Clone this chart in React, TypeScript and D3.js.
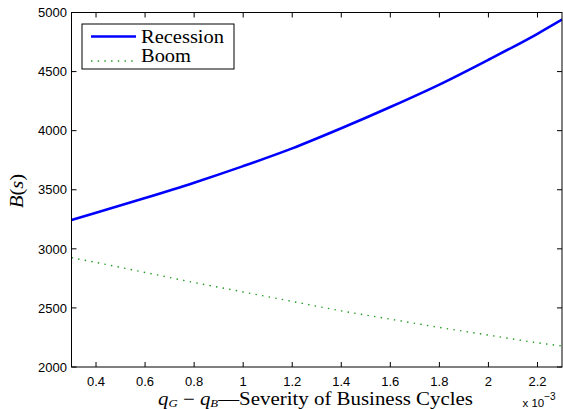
import React from "react";
import * as d3 from "d3";

// values (x in units of 1e-3)
const xValues = [0.3, 0.4, 0.6, 0.8, 1.0, 1.2, 1.4, 1.6, 1.8, 2.0, 2.2, 2.3];
const recession = [3245, 3305, 3430, 3560, 3700, 3850, 4020, 4200, 4390, 4600, 4820, 4940];
const boom = [2925, 2885, 2800, 2715, 2635, 2555, 2475, 2405, 2335, 2270, 2205, 2178];
const xTicks = [0.4, 0.6, 0.8, 1, 1.2, 1.4, 1.6, 1.8, 2, 2.2];
const yTicks = [2000, 2500, 3000, 3500, 4000, 4500, 5000];

const W = 563;
const H = 409;
const left = 71.5;
const right = 562;
const top = 12.5;
const bottom = 367;

const tickFont = "'Liberation Sans', Arial, sans-serif";
const mathFont = "'Liberation Serif', 'DejaVu Serif', serif";
const green = "#1f9a1f";

export default function App() {
  const x = d3.scaleLinear().domain([0.3, 2.3]).range([left, right]);
  const y = d3.scaleLinear().domain([2000, 5000]).range([bottom, top]);

  const line = d3
    .line<number>()
    .x((_, i) => x(xValues[i]))
    .y((d) => y(d))
    .curve(d3.curveMonotoneX);

  return (
    <svg
      width={W}
      height={H}
      style={{ position: "absolute", left: 0, top: 0, background: "#fff" }}
    >
      <defs>
        <clipPath id="plot">
          <rect x={left} y={top} width={right - left} height={bottom - top} />
        </clipPath>
      </defs>

      {/* series */}
      <g clipPath="url(#plot)">
        <path d={line(recession) ?? ""} fill="none" stroke="#0000ff" strokeWidth={2.6} />
        <path
          d={line(boom) ?? ""}
          fill="none"
          stroke={green}
          strokeWidth={1.4}
          strokeDasharray="1.4,5.3"
        />
      </g>

      {/* axes box */}
      <rect
        x={left}
        y={top}
        width={right - left}
        height={bottom - top}
        fill="none"
        stroke="#000"
        strokeWidth={1}
      />

      {/* x ticks */}
      {xTicks.map((t) => (
        <g key={`x-${t}`}>
          <line x1={x(t)} x2={x(t)} y1={bottom} y2={bottom - 5} stroke="#000" />
          <line x1={x(t)} x2={x(t)} y1={top} y2={top + 5} stroke="#000" />
          <text
            x={x(t)}
            y={385.5}
            textAnchor="middle"
            fontFamily={tickFont}
            fontSize={13}
            fill="#000"
          >
            {t}
          </text>
        </g>
      ))}

      {/* y ticks */}
      {yTicks.map((t) => (
        <g key={`y-${t}`}>
          <line x1={left} x2={left + 5} y1={y(t)} y2={y(t)} stroke="#000" />
          <line x1={right} x2={right - 5} y1={y(t)} y2={y(t)} stroke="#000" />
          <text
            x={67}
            y={y(t) + 4.7}
            textAnchor="end"
            fontFamily={tickFont}
            fontSize={13}
            fill="#000"
          >
            {t}
          </text>
        </g>
      ))}

      {/* exponent */}
      <text x={522.5} y={406.5} fontFamily={tickFont} fontSize={11.5} fill="#000">
        x 10
        <tspan dy={-6.5} fontSize={10}>
          −3
        </tspan>
      </text>

      {/* x label */}
      <text
        x={158}
        y={404.5}
        textLength={315}
        lengthAdjust="spacingAndGlyphs"
        fontFamily={mathFont}
        fontSize={18}
        fill="#000"
      >
        <tspan fontStyle="italic">q</tspan>
        <tspan fontStyle="italic" fontSize={11} dy={2}>G</tspan>
        <tspan dy={-2}> − </tspan>
        <tspan fontStyle="italic">q</tspan>
        <tspan fontStyle="italic" fontSize={11} dy={2}>B</tspan>
        <tspan dy={-2}>—Severity of Business Cycles</tspan>
      </text>

      {/* y label */}
      <text
        transform={`translate(23, 191) rotate(-90)`}
        textAnchor="middle"
        textLength={34}
        lengthAdjust="spacingAndGlyphs"
        fontFamily={mathFont}
        fontSize={18}
        fill="#000"
      >
        <tspan fontStyle="italic">B</tspan>
        <tspan>(</tspan>
        <tspan fontStyle="italic">s</tspan>
        <tspan>)</tspan>
      </text>

      {/* legend */}
      <g>
        <rect x={82} y={24} width={152} height={45} fill="#fff" stroke="#000" strokeWidth={1} />
        <line x1={91} x2={136} y1={36.5} y2={36.5} stroke="#0000ff" strokeWidth={2.6} />
        <text
          x={141}
          y={43}
          textLength={83}
          lengthAdjust="spacingAndGlyphs"
          fontFamily={mathFont}
          fontSize={18}
          fill="#000"
        >
          Recession
        </text>
        <line
          x1={91}
          x2={134}
          y1={61}
          y2={61}
          stroke={green}
          strokeWidth={1.4}
          strokeDasharray="1.4,5.3"
        />
        <text
          x={141}
          y={62}
          textLength={50}
          lengthAdjust="spacingAndGlyphs"
          fontFamily={mathFont}
          fontSize={18}
          fill="#000"
        >
          Boom
        </text>
      </g>
    </svg>
  );
}
